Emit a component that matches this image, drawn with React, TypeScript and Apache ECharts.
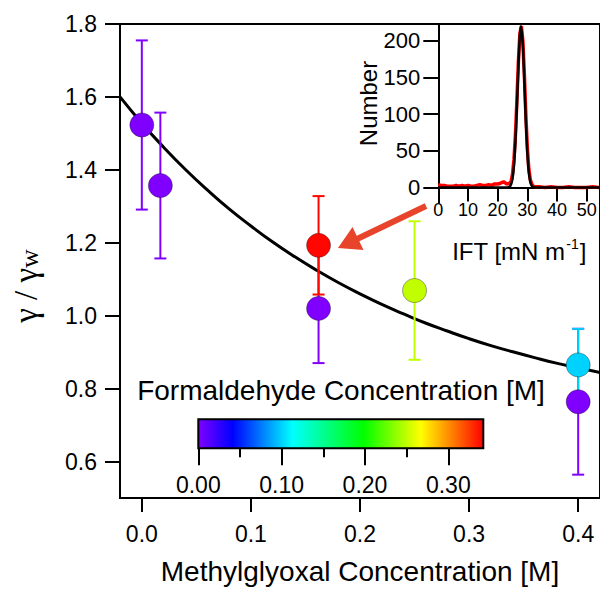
import React, { useEffect, useRef } from "react";
import * as echarts from "echarts";

// Main plot data
const mgConc = [0.0, 0.017, 0.162, 0.162, 0.25, 0.4, 0.4];
const fConc = [0.0, 0.0, 0.0, 0.34, 0.25, 0.0, 0.1];
const ratio = [1.523, 1.357, 1.02, 1.193, 1.069, 0.764, 0.865];
const ratioErr = [0.232, 0.2, 0.15, 0.135, 0.19, 0.2, 0.099];

// Fitted curve
const fitX = [-0.02, 0.0, 0.02, 0.04, 0.06, 0.08, 0.1, 0.12, 0.14, 0.16, 0.18, 0.2, 0.22, 0.24, 0.26, 0.28, 0.3, 0.32, 0.34, 0.36, 0.38, 0.4, 0.42];
const fitY = [1.6, 1.528, 1.462, 1.401, 1.345, 1.293, 1.246, 1.202, 1.162, 1.125, 1.091, 1.06, 1.031, 1.005, 0.98, 0.958, 0.937, 0.918, 0.901, 0.885, 0.87, 0.857, 0.844];

const xTicks = [0, 0.1, 0.2, 0.3, 0.4];
const yTicks = [0.6, 0.8, 1.0, 1.2, 1.4, 1.6, 1.8];

// Inset: IFT histogram
const histX = [0, 1, 2, 3, 4, 5, 6, 7, 8, 9, 10, 11, 12, 13, 14, 15, 16, 17, 18, 19, 20, 21, 22, 23,
  24, 24.5, 25, 25.5, 26, 26.5, 27, 27.5, 28, 28.5, 29, 29.5, 30, 30.5, 31, 31.5, 32, 32.5, 33,
  34, 36, 38, 40, 42, 44, 46, 48, 50, 52, 54, 56, 58, 60];
const histN = [4, 3, 3, 2, 2, 2, 3, 2, 3, 2, 3, 2, 2, 3, 4, 3, 3, 4, 3, 5, 5, 6, 8, 5,
  6, 8, 18, 38, 72, 120, 172, 210, 220, 200, 155, 100, 55, 26, 11, 5, 2, 1, 1,
  1, 0, 1, 0, 0, 1, 0, 0, 0, 1, 0, 0, 0, 0];
const gaussX = [0, 23, 24, 24.5, 25, 25.5, 26, 26.5, 27, 27.5, 27.9, 28, 28.5, 29, 29.5, 30, 30.5, 31, 31.5, 32, 33, 60];
const gaussN = [0, 0, 1.1, 4.0, 11.9, 29.8, 62.8, 111.4, 166.1, 208.1, 220, 219.2, 194.2, 144.6, 90.4, 47.6, 21.0, 7.8, 2.4, 0.6, 0, 0];
const insetXTicks = [0, 10, 20, 30, 40, 50];
const insetYTicks = [0, 50, 100, 150, 200];

// Colour bar
const cbMax = 0.342;
const cbTicks = [0, 0.1, 0.2, 0.3];
const cbMinorTicks = [0.05, 0.15, 0.25];
const cmapStops: [number, string][] = [
  [0, "#8000ff"], [0.12, "#0000ff"], [0.33, "#00ffff"], [0.58, "#00ff00"], [0.78, "#ffff00"], [1, "#ff0000"],
];

function hexToRgb(h: string) {
  return [parseInt(h.slice(1, 3), 16), parseInt(h.slice(3, 5), 16), parseInt(h.slice(5, 7), 16)];
}
function sampleCmap(n: number) {
  const out: string[] = [];
  for (let i = 0; i < n; i++) {
    const t = i / (n - 1);
    let k = 0;
    while (k < cmapStops.length - 2 && t > cmapStops[k + 1][0]) k++;
    const [t0, c0] = cmapStops[k];
    const [t1, c1] = cmapStops[k + 1];
    const f = Math.min(1, Math.max(0, (t - t0) / (t1 - t0)));
    const a = hexToRgb(c0), b = hexToRgb(c1);
    const c = a.map((v, j) => Math.round(v + (b[j] - v) * f));
    out.push(`rgb(${c[0]},${c[1]},${c[2]})`);
  }
  return out;
}

const FONT = "Liberation Sans";

export default function App() {
  const ref = useRef<HTMLDivElement>(null);
  useEffect(() => {
    document.body.style.margin = "0";
    if (!ref.current) return;
    const chart = echarts.init(ref.current, null, { renderer: "svg" });
    const pts = mgConc.map((x, i) => [x, ratio[i], fConc[i], ratio[i] - ratioErr[i], ratio[i] + ratioErr[i]]);
    const black = "#000";
    const option: any = {
      animation: false,
      textStyle: { fontFamily: FONT, color: black },
      grid: [
        { left: 120, top: 24, width: 481.8, height: 482, show: true, borderColor: black, borderWidth: 2 },
        { left: 438.3, top: 24, width: 163.5, height: 179 },
        { left: 198.3, top: 419.3, width: 285, height: 29 },
      ],
      xAxis: [
        {
          gridIndex: 0, type: "value", min: -0.02, max: 0.42,
          axisLine: { show: true, onZero: false, lineStyle: { color: black, width: 2 } },
          axisTick: { show: true, length: 14, customValues: xTicks, lineStyle: { color: black, width: 2 } },
          axisLabel: { customValues: xTicks, formatter: (v: number) => v.toFixed(1), fontSize: 23, color: black, margin: 24, fontFamily: FONT },
          splitLine: { show: false },
          name: "Methylglyoxal Concentration [M]", nameLocation: "middle", nameGap: 59,
          nameTextStyle: { fontSize: 28, color: black, fontFamily: FONT },
        },
        {
          gridIndex: 1, type: "value", min: 0, max: 54.5,
          axisLine: { show: true, onZero: true, lineStyle: { color: black, width: 2 } },
          axisTick: { show: true, length: 14, customValues: insetXTicks, lineStyle: { color: black, width: 2 } },
          axisLabel: { customValues: insetXTicks, fontSize: 18, color: black, margin: -2, fontFamily: FONT },
          splitLine: { show: false },
          name: "{a|IFT [mN m}{s|-1}{a|]}", nameLocation: "middle", nameGap: 34,
          nameTextStyle: {
            rich: {
              a: { fontSize: 24, fontFamily: FONT, color: black, verticalAlign: "bottom" },
              s: { fontSize: 14, fontFamily: FONT, color: black, verticalAlign: "bottom", padding: [0, 1, 12, 1] },
            },
          },
        },
        {
          gridIndex: 2, type: "value", min: 0, max: cbMax, position: "bottom",
          axisLine: { show: false, onZero: false },
          axisTick: { show: true, length: 17, customValues: cbTicks, lineStyle: { color: black, width: 2 } },
          axisLabel: { customValues: cbTicks, formatter: (v: number) => v.toFixed(2), fontSize: 23, color: black, margin: 25, fontFamily: FONT },
          splitLine: { show: false },
        },
        {
          gridIndex: 2, type: "value", min: 0, max: cbMax, position: "bottom", offset: 0,
          axisLine: { show: false, onZero: false },
          axisTick: { show: true, length: 9, customValues: cbMinorTicks, lineStyle: { color: black, width: 2 } },
          axisLabel: { show: false },
          splitLine: { show: false },
        },
      ],
      yAxis: [
        {
          gridIndex: 0, type: "value", min: 0.5, max: 1.8,
          axisLine: { show: true, onZero: false, lineStyle: { color: black, width: 2 } },
          axisTick: { show: true, length: 15, customValues: yTicks, lineStyle: { color: black, width: 2 } },
          axisLabel: { customValues: yTicks, formatter: (v: number) => v.toFixed(1), fontSize: 23, color: black, margin: 23, fontFamily: FONT },
          splitLine: { show: false },
        },
        {
          gridIndex: 1, type: "value", min: -21, max: 223,
          axisLine: { show: true, onZero: false, lineStyle: { color: black, width: 2 } },
          axisTick: { show: true, length: 15, customValues: insetYTicks, lineStyle: { color: black, width: 2 } },
          axisLabel: { customValues: insetYTicks, fontSize: 22, color: black, margin: 18, fontFamily: FONT },
          splitLine: { show: false },
        },
        { gridIndex: 2, type: "value", min: 0, max: 1, show: false },
      ],
      visualMap: {
        show: false, type: "continuous", min: 0, max: cbMax, dimension: 2, seriesIndex: [1, 2],
        inRange: { color: sampleCmap(41) },
      },
      series: [
        {
          type: "line", xAxisIndex: 0, yAxisIndex: 0, data: fitX.map((x, i) => [x, fitY[i]]),
          showSymbol: false, smooth: true, lineStyle: { color: black, width: 3 }, z: 1,
        },
        {
          type: "custom", xAxisIndex: 0, yAxisIndex: 0, data: pts, z: 2,
          encode: { x: 0, y: 1 },
          renderItem: (params: any, api: any) => {
            const x = api.value(0);
            const lo = api.coord([x, api.value(3)]);
            const hi = api.coord([x, api.value(4)]);
            const color = api.visual("color");
            const cap = 6;
            const st = { stroke: color, lineWidth: 2 };
            return {
              type: "group",
              children: [
                { type: "line", shape: { x1: lo[0], y1: lo[1], x2: hi[0], y2: hi[1] }, style: st },
                { type: "line", shape: { x1: hi[0] - cap, y1: hi[1], x2: hi[0] + cap, y2: hi[1] }, style: st },
                { type: "line", shape: { x1: lo[0] - cap, y1: lo[1], x2: lo[0] + cap, y2: lo[1] }, style: st },
              ],
            };
          },
        },
        {
          type: "scatter", xAxisIndex: 0, yAxisIndex: 0, data: pts, symbolSize: 24, z: 3,
          itemStyle: { borderColor: "rgba(0,0,0,0.35)", borderWidth: 1, opacity: 1 },
        },
        {
          type: "line", xAxisIndex: 1, yAxisIndex: 1, data: histX.map((x, i) => [x, histN[i]]),
          showSymbol: false, lineStyle: { color: "#ff0000", width: 3.5 }, z: 2,
        },
        {
          type: "line", xAxisIndex: 1, yAxisIndex: 1, data: gaussX.map((x, i) => [x, gaussN[i]]),
          showSymbol: false, smooth: 0.2, lineStyle: { color: black, width: 2.5 }, z: 3,
        },
        {
          type: "custom", xAxisIndex: 2, yAxisIndex: 2, data: [[0, 0]], z: 2,
          renderItem: (params: any, api: any) => {
            const p0 = api.coord([0, 1]);
            const p1 = api.coord([cbMax, 0]);
            return {
              type: "rect",
              shape: { x: p0[0], y: p0[1], width: p1[0] - p0[0], height: p1[1] - p0[1] },
              style: {
                fill: new echarts.graphic.LinearGradient(0, 0, 1, 0, cmapStops.map(([o, c]) => ({ offset: o, color: c }))),
                stroke: black, lineWidth: 2,
              },
            };
          },
        },
      ],
      graphic: [
        {
          type: "text", x: 26, y: 286, rotation: Math.PI / 2,
          style: {
            text: "{g|γ / γ}{s|w}", align: "center", verticalAlign: "middle",
            rich: {
              g: { fontSize: 33, fontFamily: "Liberation Serif", fill: black, verticalAlign: "top" },
              s: { fontSize: 26, fontFamily: "Liberation Serif", fill: black, verticalAlign: "top", padding: [7, 0, 0, 0] },
            },
          },
        },
        {
          type: "text", x: 341, y: 390,
          style: { text: "Formaldehyde Concentration [M]", fontSize: 28, fontFamily: FONT, fill: black, align: "center", verticalAlign: "middle" },
        },
        {
          type: "text", x: 368, y: 103.5, rotation: Math.PI / 2,
          style: { text: "Number", fontSize: 24, fontFamily: FONT, fill: black, align: "center", verticalAlign: "middle" },
        },
        {
          type: "line", shape: { x1: 426, y1: 206, x2: 356, y2: 239.5 },
          style: { stroke: "#e8432b", lineWidth: 6 },
        },
        {
          type: "polygon", shape: { points: [[338, 248], [352.5, 227], [363.5, 250]] },
          style: { fill: "#e8432b" },
        },
      ],
    };
    chart.setOption(option);
    return () => chart.dispose();
  }, []);
  return <div ref={ref} style={{ width: 600, height: 590 }} />;
}
